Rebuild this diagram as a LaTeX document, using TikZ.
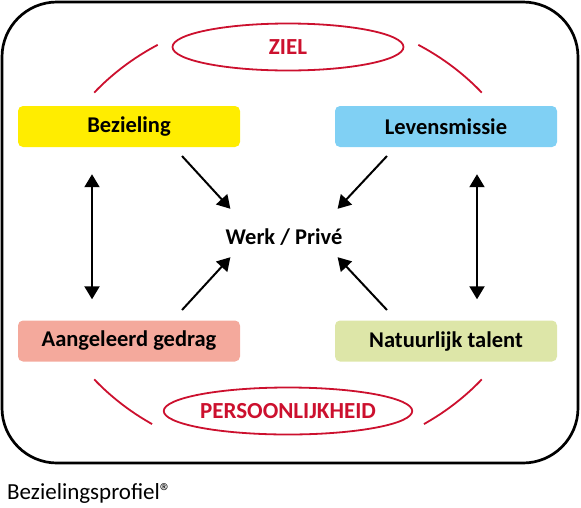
\documentclass[tikz,border=0pt]{standalone}
\usepackage{fontspec}
\setmainfont{Carlito}
\usetikzlibrary{shapes.geometric,arrows.meta}
\definecolor{zred}{RGB}{204,16,46}
\definecolor{cyel}{RGB}{255,237,0}
\definecolor{cblue}{RGB}{128,208,244}
\definecolor{csalmon}{RGB}{244,169,156}
\definecolor{cgreen}{RGB}{221,230,168}
\tikzset{
  box/.style={rounded corners=5pt, minimum width=222pt, minimum height=41pt, inner sep=0pt,
    font=\fontsize{22.5}{26}\selectfont\bfseries},
  oval/.style={ellipse, draw=zred, line width=1.8pt, minimum width=231pt, minimum height=47pt,
    inner sep=0pt, text=zred, font=\fontsize{23}{27}\selectfont\bfseries},
  redarc/.style={draw=zred, line width=1.8pt},
  arr/.style={line width=2pt, -{Triangle[length=13pt,width=15pt]}},
  darr/.style={line width=2pt, {Triangle[length=13pt,width=15pt]}-{Triangle[length=13pt,width=15pt]}},
}
\begin{document}
\begin{tikzpicture}[x=1pt,y=-1pt]
\useasboundingbox (0,0) rectangle (581,507);
\draw[line width=2.7pt, rounded corners=55pt] (2,2) rectangle (578,463);
\node[oval] (ziel) at (288,47) {ZIEL};
\node[oval] (pers) at (288,411) {PERSOONLIJKHEID};
\node[box, fill=cyel] (bez) at (129,126.5) {Bezieling};
\node[box, fill=cblue] (lev) at (446,126.5) {Levensmissie};
\node[box, fill=csalmon] (aan) at (129,341) {Aangeleerd gedrag};
\node[box, fill=cgreen] (nat) at (446,341) {Natuurlijk talent};
\node[inner ysep=0pt, inner xsep=-5pt, text height=35pt, text depth=13pt,
  font=\fontsize{22.5}{26}\selectfont\bfseries] (werk) at (284,233) {Werk / Privé};
% red arcs
\draw[redarc] plot[smooth, domain=220:239, samples=20] ({288+253*cos(\x)},{236+223*sin(\x)});
\draw[redarc] plot[smooth, domain=301:320, samples=20] ({288+253*cos(\x)},{236+223*sin(\x)});
\draw[redarc] plot[smooth, domain=122.5:140, samples=20] ({288+253*cos(\x)},{236+223*sin(\x)});
\draw[redarc] plot[smooth, domain=40:57.5, samples=20] ({288+253*cos(\x)},{236+223*sin(\x)});
% arrows
\coordinate (s1) at (182,156);
\coordinate (s2) at (387,156);
\coordinate (s3) at (182,310);
\coordinate (s4) at (387,310);
\draw[arr] (s1) -- (werk.north west);
\draw[arr] (s2) -- (werk.north east);
\draw[arr] (s3) -- (werk.south west);
\draw[arr] (s4) -- (werk.south east);
\draw[darr, shorten <=27pt, shorten >=21pt] ([xshift=-37pt]bez.south) -- ([xshift=-37pt]aan.north);
\draw[darr, shorten <=27pt, shorten >=21pt] ([xshift=31pt]lev.south) -- ([xshift=31pt]nat.north);
\node[anchor=west, inner sep=0pt, font=\fontsize{23}{27}\selectfont] (cap) at (7,493) {Bezielingsprofiel®};
\end{tikzpicture}
\end{document}
